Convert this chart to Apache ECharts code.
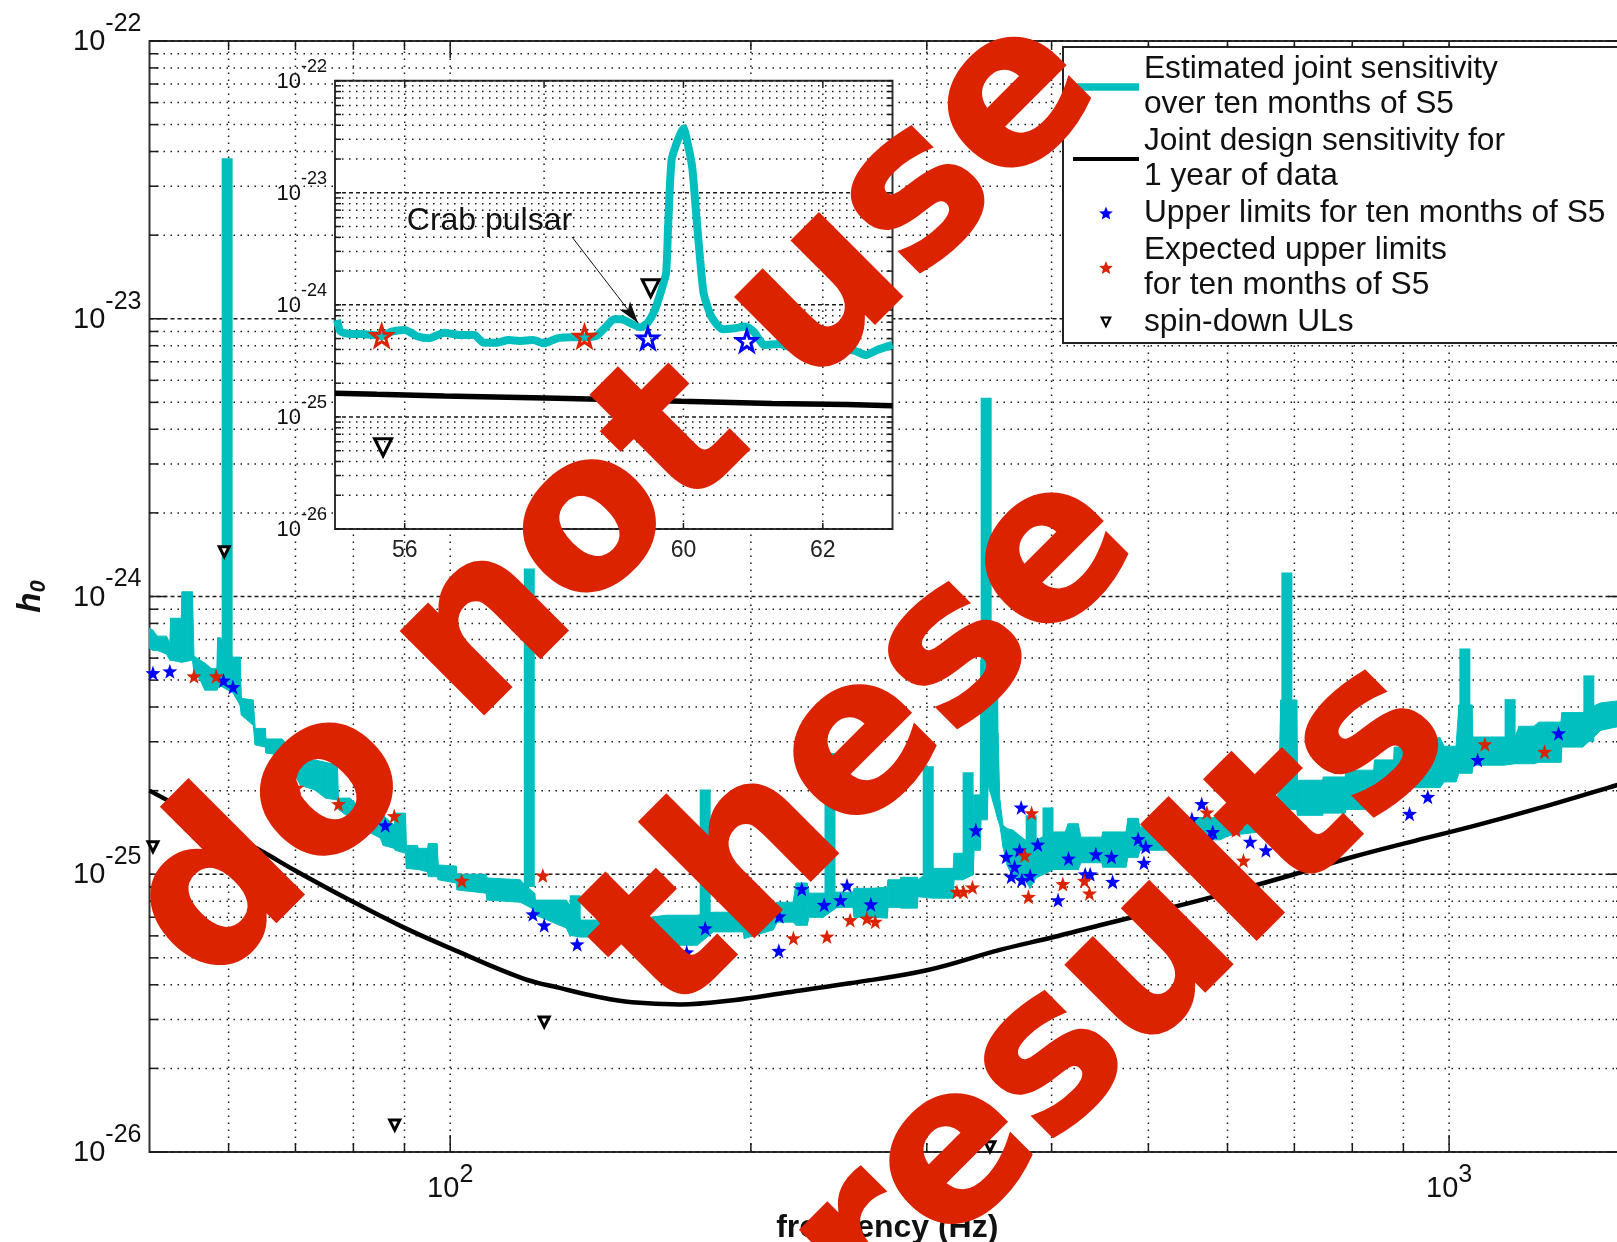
<!DOCTYPE html>
<html><head><meta charset="utf-8"><title>h0 sensitivity</title>
<script src="https://cdn.jsdelivr.net/npm/echarts@6/dist/echarts.min.js"></script>
<style>html,body{margin:0;padding:0;background:#fff;overflow:hidden}#c{width:1617px;height:1242px}</style></head>
<body><div id="c"></div>
<script>
// strain values below are listed in units of 1e-25
const UNIT = 1e-25;

// Estimated joint sensitivity: broad band (frequency, upper edge, lower edge)
const sensFreq = [50,50.4,50.9,52,52.4,52.5,53.8,53.9,55.2,55.4,56.2,56.8,57.7,58.4,58.5,58.9,60.6,61.6,61.8,63.5,63.8,65.3,65.4,67.9,69.1,70.8,73.2,75,77.1,77.3,79.4,81.3,85.1,85.7,87.9,88.1,90.2,90.4,92.7,92.9,94.9,95.1,97,97.3,101.4,101.6,108.6,108.9,117.5,119,121.5,121.7,130.7,131.7,135,143.5,147.9,158.5,164.5,176.7,183.4,196.5,197,210.5,212.5,220.4,222,227.7,228.7,236.3,244,253,253.8,265,273.8,274.4,282,282.6,293.4,294,304.3,318.8,319.5,326,333.8,334.6,339.3,340,344.8,345.6,352.8,353.5,355,357.7,361,366,376.2,380.6,385.9,402,412.6,415.6,425.3,428,449,450,474.8,477,488,490.5,525,529,589.6,603,669,675,678.5,703.8,705,747,748.5,787,788,840.5,842,880,881.5,944,953,979.5,988.5,1016,1023,1054,1056,1135,1164,1175,1216,1230,1294,1297,1361,1403,1419,1500];
const sensUpper = [7.69,7.56,7.2,7.2,6.8,8.35,8.35,10.4,10.4,6.1,5.9,5.76,5.5,5.5,7.1,7.1,6.05,6.05,4.3,4.24,3.35,3.35,3.07,3.07,2.85,2.58,2.58,2.53,2.47,1.88,1.88,1.73,1.63,1.63,1.5,1.66,1.66,1.27,1.27,1.24,1.24,1.29,1.29,1.08,1.07,1.0,1.0,0.97,0.955,0.91,0.855,0.807,0.807,0.775,0.684,0.684,0.695,0.70,0.712,0.712,0.73,0.73,0.73,0.775,0.793,0.793,0.93,0.93,0.855,0.855,0.862,0.862,0.89,0.89,0.9,0.955,0.955,0.975,0.975,0.955,1.05,1.05,1.19,1.19,1.33,1.93,1.93,5.9,6.96,6.96,6.96,3.22,1.85,1.5,1.46,1.44,1.33,1.33,1.33,1.42,1.42,1.52,1.52,1.36,1.36,1.42,1.42,1.59,1.59,1.48,1.48,1.6,1.6,1.77,1.85,1.96,4.24,4.24,2.18,2.18,2.24,2.24,2.37,2.37,2.58,2.58,2.87,2.87,3.1,3.1,2.89,2.89,4.07,4.07,3.12,3.12,3.12,3.41,3.41,3.53,3.53,3.82,3.82,4.07,4.14,4.24];
const sensLower = [6.5,6.4,6.4,6.2,5.9,5.9,5.8,5.8,5.9,5.33,5.0,4.6,4.6,4.6,4.68,4.76,4.5,4.06,3.74,3.44,2.92,2.87,2.73,2.68,2.47,2.09,2.01,1.88,1.85,1.71,1.59,1.47,1.35,1.27,1.24,1.22,1.19,1.05,1.04,1.04,1.02,0.98,0.98,0.955,0.93,0.878,0.855,0.807,0.793,0.775,0.743,0.713,0.64,0.603,0.594,0.594,0.579,0.57,0.555,0.555,0.62,0.62,0.587,0.63,0.672,0.672,0.655,0.655,0.70,0.70,0.76,0.76,0.70,0.70,0.695,0.76,0.76,0.755,0.755,0.83,0.82,0.82,0.955,0.955,0.995,1.22,1.22,1.57,1.57,2.1,1.61,1.57,1.5,1.25,1.08,0.97,0.955,0.89,0.97,1.04,1.04,1.04,1.04,1.1,1.1,1.06,1.06,1.15,1.15,1.22,1.22,1.33,1.33,1.38,1.44,1.71,1.71,1.71,1.63,1.63,1.66,1.66,1.71,1.71,1.8,1.8,2.05,2.05,2.05,2.05,2.15,2.15,2.31,2.31,2.47,2.47,2.5,2.5,2.5,2.53,2.53,2.87,2.87,3.17,3.3,3.44];

// Narrow instrumental lines on top of the band
const lineFreq = [59.8,120,133.4,180,240,301,330,344,381.6,396.7,688,1037,1151,1380];
const lineTop  = [378,12.6,0.84,2.02,2.73,2.45,2.33,52,1.63,1.74,12.2,6.5,4.27,5.2];
const lineBase = [6,0.9,0.65,0.7,0.8,0.9,1.0,5.0,1.0,1.05,2,2.5,2.6,3];

// Joint design sensitivity
const designFreq = [50,64.5,70,79.4,89.7,100,118,129,141,152,170,192,215,251,300,355,401,447,549,625,700,802,909,1064,1230,1450,1500];
const designH = [2.0,1.22,1.03,0.806,0.645,0.542,0.423,0.389,0.361,0.346,0.34,0.352,0.373,0.405,0.451,0.534,0.593,0.655,0.787,0.891,1.0,1.156,1.30,1.50,1.73,2.06,2.13];

// Upper limits
const ulFreq = [50.4,52.4,59.3,60.6,86.1,121,124.2,134,172.5,180,213.5,213.3,224.9,236.8,245.9,249.6,263.7,335.9,372.9,360.3,371.5,387.4,367.3,364.5,373.5,380.7,415.9,443,432.2,437.2,406,459.2,460.4,494.9,488.3,497,552.7,565.4,551.3,580,574.9,573.8,632.2,655.5,658.5,677.9,707.9,912.8,952,1068,1287];
const ulH = [5.3,5.38,4.98,4.72,1.5,0.718,0.655,0.56,0.524,0.639,0.706,0.53,0.885,0.776,0.807,0.912,0.78,1.44,1.74,1.156,1.22,1.28,1.064,0.98,0.953,0.988,1.14,1.18,1.0,1.0,0.807,1.156,0.94,1.1,1.34,1.256,1.58,1.79,1.44,1.42,1.34,1.27,1.31,1.22,1.8,1.69,1.48,1.65,1.9,2.58,3.22];

// Expected upper limits
const expFreq = [55.4,58.3,70.2,77.3,87.9,102.7,123.8,220.6,238.3,251.4,261.3,266.4,321.6,326.5,333.3,382,376,379.2,410.5,431.5,436.5,556.8,572.2,612.1,622.5,1086,1246];
const expH = [5.16,5.16,2.05,1.79,1.62,0.948,0.99,0.589,0.597,0.684,0.693,0.675,0.865,0.865,0.897,1.66,1.17,0.83,0.922,0.948,0.853,1.33,1.67,1.44,1.12,2.94,2.76];

// Spin-down upper limits
const sdFreq = [59.4,50.4,124.2,88,347];
const sdH = [14.5,1.256,0.294,0.125,0.1045];

// Inset (55-63 Hz)
const insetFreq = [55.03,55.08,55.22,55.38,55.54,55.68,55.81,56.0,56.19,56.35,56.57,56.78,57.0,57.13,57.32,57.49,57.65,57.84,58.0,58.19,58.4,58.57,58.75,58.89,59.0,59.11,59.24,59.38,59.48,59.59,59.67,59.75,59.78,59.83,59.92,60.0,60.08,60.13,60.19,60.24,60.29,60.4,60.56,60.73,60.89,61.02,61.16,61.37,61.56,61.78,61.97,62.24,62.45,62.62,62.78,63.0];
const insetH = [7.34,5.77,5.5,5.5,5.39,5.28,5.77,5.97,5.21,5.03,5.65,5.39,5.39,4.6,4.6,4.86,4.77,4.86,4.54,5.03,5.14,5.14,5.28,6.4,7.44,7.44,6.85,6.31,6.85,9.01,12.7,19.1,49.9,196,296,376,241,160,57.2,25.2,12.7,7.85,6.05,6.18,6.4,5.65,4.39,4.48,4.18,4.24,4.10,4.02,3.91,3.57,3.96,4.39];
const insetDesignFreq = [55,55.6,56.57,58.19,59.97,61.27,62.35,63];
const insetDesignH = [1.63,1.59,1.54,1.47,1.38,1.32,1.29,1.26];
const insetUlFreq = [59.49,60.91];
const insetUlH = [5.03,4.77];
const insetExpFreq = [55.67,58.58];
const insetExpH = [5.28,5.21];
const insetSdFreq = [59.53,55.69];
const insetSdH = [14.06,0.536];

// Axis ticks and grid values
const mainXGrid = [60,70,80,90,100,200,300,400,500,600,700,800,900,1000];
const mainXMajor = [100,1000];
const insetXGrid = [56,58,60,62];
const yExponents = [-26,-25,-24,-23,-22];
const yEndExponents = [-26,-22];
const yMantissas = [2,3,4,5,6,7,8,9];

const names = {
  sens:'Estimated joint sensitivity\nover ten months of S5',
  design:'Joint design sensitivity for\n1 year of data',
  ul:'Upper limits for ten months of S5',
  exp:'Expected upper limits\nfor ten months of S5',
  sd:'spin-down ULs'
};
const watermarkLines = ['do not use','these','results'];

const CYAN='#01bfbf', RED='#dc2300', BLUE='#0000ff', DOT='#1a1a1a', FONT='"Liberation Sans", Arial, sans-serif';
const STAR='path://M50,0 L62,35 L100,36 L70,59 L81,95 L50,74 L19,95 L30,59 L0,36 L38,35 Z';
const box='M0,0h.01v.01h-.01z M66,16h.01v.01h-.01z ';
const star=(cx,cy,r)=>{const p=[];for(let i=0;i<10;i++){const a=-Math.PI/2+i*Math.PI/5,q=i%2?r*.45:r;p.push((i?'L':'M')+(cx+q*Math.cos(a)).toFixed(2)+','+(cy+q*Math.sin(a)).toFixed(2));}return p.join(' ')+'Z';};
const legendIcons={
  sens:'path://'+box+'M0,4.2H66V11.8H0Z',
  design:'path://'+box+'M0,6H66V10H0Z',
  star:'path://'+box+star(33,8.3,7.2),
  tri:'path://'+box+'M27,2H39L33,14Z M30.5,4L33,9.4L35.5,4Z'
};
const pairs=(xs,ys)=>xs.map((x,i)=>[x,ys[i]*UNIT]);
const yGrid=[];
yExponents.forEach((e,i)=>{ yGrid.push([Math.pow(10,e),1]); if(i<yExponents.length-1) yMantissas.forEach(m=>yGrid.push([m*Math.pow(10,e),0])); });

function gridSeries(ai,xGrid,xMajor,yMin,tickMajor,tickMinor,z,xMin){
  const common={type:'custom',xAxisIndex:ai,yAxisIndex:ai,silent:true,z:z,animation:false};
  return [
    {...common,name:'x grid '+ai,encode:{x:0,y:1},data:xGrid.map(v=>[v,yMin]),
     renderItem(p,api){
       const v=api.value(0),a=api.coord([v,1e-26]),b=api.coord([v,1e-22]);
       const t=(xMajor.indexOf(v)>=0)?tickMajor:tickMinor;
       return {type:'group',children:[
         {type:'line',shape:{x1:a[0],y1:a[1],x2:b[0],y2:b[1]},style:{stroke:DOT,lineWidth:1.5,lineDash:[1.5,5.5]}},
         {type:'line',shape:{x1:a[0],y1:a[1],x2:a[0],y2:a[1]-t},style:{stroke:DOT,lineWidth:1.5}},
         {type:'line',shape:{x1:b[0],y1:b[1],x2:b[0],y2:b[1]+t},style:{stroke:DOT,lineWidth:1.5}}
       ]};
     }},
    {...common,name:'y grid '+ai,encode:{x:0,y:1},data:yGrid.map(r=>[xMin,r[0],r[1]]),
     renderItem(p,api){
       const v=api.value(1),maj=api.value(2),a=api.coord([xMin,v]),r=p.coordSys.x+p.coordSys.width;
       const t=maj?tickMajor:tickMinor;
       return {type:'group',children:[
         {type:'line',shape:{x1:a[0],y1:a[1],x2:r,y2:a[1]},style:{stroke:DOT,lineWidth:1.5,lineDash:maj?[4,3]:[1.5,5.5]}},
         {type:'line',shape:{x1:a[0],y1:a[1],x2:a[0]+t,y2:a[1]},style:{stroke:DOT,lineWidth:1.5}},
         {type:'line',shape:{x1:r,y1:a[1],x2:r-t,y2:a[1]},style:{stroke:DOT,lineWidth:1.5}}
       ]};
     }}
  ];
}
const powerLabel=(cls)=>v=>{const e=Math.log10(v),r=Math.round(e);return Math.abs(e-r)<1e-6?`{${cls}b|10}{${cls}s|${r}}`:'';};
const richFor=(cls,b,s,up)=>({[cls+'b']:{fontSize:b,fontFamily:FONT,color:'#111',lineHeight:b+2,verticalAlign:'bottom'},
                             [cls+'s']:{fontSize:s,fontFamily:FONT,color:'#111',lineHeight:s+2,padding:[0,0,up,0],verticalAlign:'bottom'}});
const mainRich=richFor('m',29,25,20), insetRich=richFor('i',22,18,17);
// The log axis drops its end labels, so the two end decades are labelled through points on the axis edge.
const endLabels=(ai,xMin,cls,rich,margin,z)=>({type:'scatter',name:'end labels '+ai,xAxisIndex:ai,yAxisIndex:ai,z:z,silent:true,symbolSize:0,clip:false,
  itemStyle:{opacity:1},data:yEndExponents.map(e=>[xMin,Math.pow(10,e)]),
  label:{show:true,position:'left',distance:margin,opacity:1,formatter:p=>powerLabel(cls)(p.value[1]),rich:rich}});

const chart=echarts.init(document.getElementById('c'),null,{renderer:'canvas'});
chart.setOption({
  animation:false,backgroundColor:'#fff',
  grid:[
    {left:149.5,top:41,width:1475.5,height:1111,show:true,borderColor:'#333',borderWidth:2,backgroundColor:'#fff',z:0,outerBoundsMode:'none',containLabel:false},
    {left:335,top:80.7,width:557.5,height:448.3,show:true,borderColor:'#333',borderWidth:2,backgroundColor:'#fff',z:3,outerBoundsMode:'none',containLabel:false}
  ],
  xAxis:[
    {type:'log',logBase:10,gridIndex:0,min:50,max:1500,name:'frequency (Hz)',nameLocation:'middle',nameGap:60,nameMoveOverlap:false,
     nameTextStyle:{fontFamily:FONT,fontSize:32,fontWeight:'bold',color:'#111'},
     axisLine:{show:false},axisTick:{show:false},splitLine:{show:false},minorTick:{show:false},minorSplitLine:{show:false},
     axisLabel:{show:true,showMinLabel:false,showMaxLabel:false,hideOverlap:false,margin:20,formatter:powerLabel('m'),rich:richFor('m',29,25,15)}},
    {type:'value',gridIndex:1,min:55,max:63,z:5,
     axisLine:{show:false},axisTick:{show:false},splitLine:{show:false},
     axisLabel:{show:true,margin:10,customValues:insetXGrid,fontFamily:FONT,fontSize:23,color:'#222'}}
  ],
  yAxis:[
    {type:'log',logBase:10,gridIndex:0,min:1e-26,max:1e-22,name:'{h|h}{z|0}',nameLocation:'middle',nameGap:100,nameRotate:90,nameMoveOverlap:false,
     nameTextStyle:{rich:{h:{fontFamily:FONT,fontSize:33,fontWeight:'bold',fontStyle:'italic',color:'#111'},z:{fontFamily:FONT,fontSize:22,fontWeight:'bold',fontStyle:'italic',color:'#111',padding:[16,0,0,0]}}},
     axisLine:{show:false},axisTick:{show:false},splitLine:{show:false},minorTick:{show:false},minorSplitLine:{show:false},
     axisLabel:{show:true,showMinLabel:true,showMaxLabel:true,hideOverlap:false,margin:8,formatter:powerLabel('m'),rich:mainRich}},
    {type:'log',logBase:10,gridIndex:1,min:1e-26,max:1e-22,z:5,
     axisLine:{show:false},axisTick:{show:false},splitLine:{show:false},minorTick:{show:false},minorSplitLine:{show:false},
     axisLabel:{show:true,showMinLabel:true,showMaxLabel:true,hideOverlap:false,margin:8,formatter:powerLabel('i'),rich:insetRich}}
  ],
  legend:{
    show:true,orient:'vertical',left:1063,top:47,z:20,selectedMode:false,itemWidth:66,itemHeight:16,itemGap:2,
    padding:[5,40,3,10],backgroundColor:'#fff',borderColor:'#222',borderWidth:2,
    textStyle:{fontFamily:FONT,fontSize:31.7,lineHeight:35,color:'#111'},
    data:[
      {name:names.sens,icon:legendIcons.sens,itemStyle:{color:CYAN,borderWidth:0,opacity:1}},
      {name:names.design,icon:legendIcons.design,itemStyle:{color:'#000',borderWidth:0,opacity:1}},
      {name:names.ul,icon:legendIcons.star,itemStyle:{color:BLUE,borderWidth:0,opacity:1}},
      {name:names.exp,icon:legendIcons.star,itemStyle:{color:RED,borderWidth:0,opacity:1}},
      {name:names.sd,icon:legendIcons.tri,itemStyle:{color:'#000',borderWidth:0,opacity:1}}
    ]
  },
  series:[
    ...gridSeries(0,mainXGrid,mainXMajor,1e-26,17,9,1,50),
    endLabels(0,50,'m',mainRich,8,2),
    {type:'custom',name:names.sens,xAxisIndex:0,yAxisIndex:0,z:2,silent:true,itemStyle:{color:CYAN},encode:{x:0,y:1},
     data:sensFreq.map((f,i)=>[f,sensUpper[i]*UNIT,sensLower[i]*UNIT]),
     renderItem(p,api){
       const i=p.dataIndex; if(i>=sensFreq.length-1) return null;
       const pts=[[sensFreq[i],sensUpper[i]],[sensFreq[i+1],sensUpper[i+1]],[sensFreq[i+1],sensLower[i+1]],[sensFreq[i],sensLower[i]]]
         .map(q=>api.coord([q[0],q[1]*UNIT]));
       return {type:'polygon',shape:{points:pts},style:{fill:CYAN,stroke:CYAN,lineWidth:1}};
     }},
    {type:'custom',name:'instrumental lines',xAxisIndex:0,yAxisIndex:0,z:2,silent:true,encode:{x:0,y:1},
     data:lineFreq.map((f,i)=>[f,lineTop[i]*UNIT,lineBase[i]*UNIT]),
     renderItem(p,api){
       const a=api.coord([api.value(0),api.value(1)]),b=api.coord([api.value(0),api.value(2)]);
       return {type:'line',shape:{x1:a[0],y1:a[1],x2:b[0],y2:b[1]},style:{stroke:CYAN,lineWidth:11,lineCap:'butt'}};
     }},
    {type:'line',name:names.design,xAxisIndex:0,yAxisIndex:0,z:3,symbol:'none',smooth:0.4,silent:true,lineStyle:{color:'#000',width:4.5},data:pairs(designFreq,designH)},
    {type:'scatter',name:names.ul,xAxisIndex:0,yAxisIndex:0,z:4,silent:true,symbol:STAR,symbolSize:15,itemStyle:{color:BLUE,opacity:1},data:pairs(ulFreq,ulH)},
    {type:'scatter',name:names.exp,xAxisIndex:0,yAxisIndex:0,z:4,silent:true,symbol:STAR,symbolSize:15,itemStyle:{color:RED,opacity:1},data:pairs(expFreq,expH)},
    {type:'scatter',name:names.sd,xAxisIndex:0,yAxisIndex:0,z:4,silent:true,symbol:'triangle',symbolRotate:180,symbolSize:10,itemStyle:{color:'#fff',borderColor:'#000',borderWidth:3,opacity:1},data:pairs(sdFreq,sdH)},

    ...gridSeries(1,insetXGrid,[],1e-26,6,6,4,55),
    endLabels(1,55,'i',insetRich,8,5),
    {type:'line',name:'sensitivity (inset)',xAxisIndex:1,yAxisIndex:1,z:5,symbol:'none',silent:true,smooth:0.2,lineStyle:{color:CYAN,width:8},data:pairs(insetFreq,insetH)},
    {type:'line',name:'design (inset)',xAxisIndex:1,yAxisIndex:1,z:5,symbol:'none',silent:true,lineStyle:{color:'#000',width:5.5},data:pairs(insetDesignFreq,insetDesignH),
     markLine:{silent:true,symbol:['none','arrow'],symbolSize:[10,22],z:7,label:{show:false},lineStyle:{type:'solid',color:'#111',width:1,opacity:1},animation:false,
       data:[[{coord:[58.4,4.04e-24]},{coord:[59.35,6.9e-25]}]]}},
    {type:'scatter',name:'upper limits (inset)',xAxisIndex:1,yAxisIndex:1,z:6,silent:true,symbol:STAR,symbolSize:20,itemStyle:{color:'rgba(0,0,0,0)',borderColor:BLUE,borderWidth:3,opacity:1},data:pairs(insetUlFreq,insetUlH)},
    {type:'scatter',name:'expected (inset)',xAxisIndex:1,yAxisIndex:1,z:6,silent:true,symbol:STAR,symbolSize:20,itemStyle:{color:'rgba(0,0,0,0)',borderColor:RED,borderWidth:3,opacity:1},data:pairs(insetExpFreq,insetExpH)},
    {type:'scatter',name:'spin-down (inset)',xAxisIndex:1,yAxisIndex:1,z:6,silent:true,symbol:'triangle',symbolRotate:180,symbolSize:17,itemStyle:{color:'rgba(0,0,0,0)',borderColor:'#000',borderWidth:3,opacity:1},data:pairs(insetSdFreq,insetSdH)},
    {type:'scatter',name:'annotation',xAxisIndex:1,yAxisIndex:1,z:7,silent:true,symbolSize:0,itemStyle:{opacity:1},data:[[56.03,5.6e-24]],
     label:{show:true,position:'right',distance:0,formatter:'Crab pulsar',fontFamily:FONT,fontSize:32,color:'#111',opacity:1}}
  ],
  graphic:{elements:[
    {type:'text',x:244,y:1026,rotation:Math.PI/4,z:100,silent:true,style:{text:watermarkLines[0],font:'bold 213px "DejaVu Sans"',fill:RED,stroke:RED,lineWidth:3,verticalAlign:'bottom',align:'left'}},
    {type:'text',x:706,y:1057,rotation:Math.PI/4,z:100,silent:true,style:{text:watermarkLines[1],font:'bold 213px "DejaVu Sans"',fill:RED,stroke:RED,lineWidth:3,verticalAlign:'bottom',align:'left'}},
    {type:'text',x:907,y:1361,rotation:Math.PI/4,z:100,silent:true,style:{text:watermarkLines[2],font:'bold 213px "DejaVu Sans"',fill:RED,stroke:RED,lineWidth:3,verticalAlign:'bottom',align:'left'}}
  ]}
});
</script></body></html>
